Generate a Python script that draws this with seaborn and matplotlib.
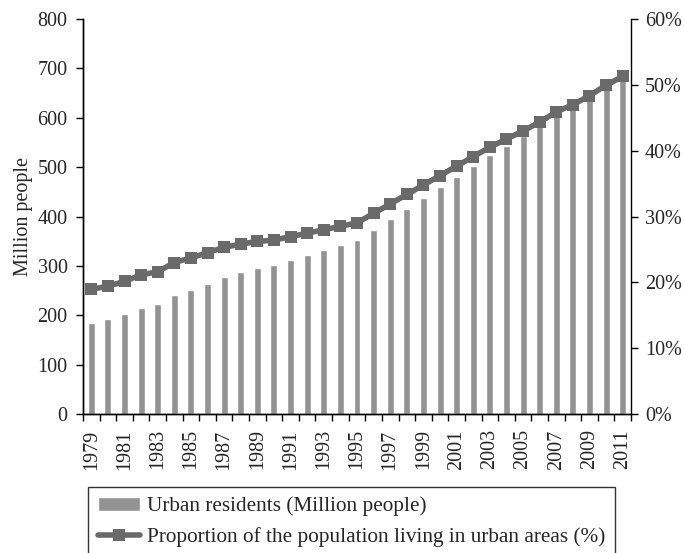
import numpy as np
import pandas as pd
import matplotlib
matplotlib.use("Agg")
import matplotlib.pyplot as plt
import seaborn as sns
from matplotlib.ticker import FuncFormatter, FixedLocator

years = list(range(1979, 2012))
urban_residents = [184.95, 191.40, 201.71, 214.80, 222.74, 240.17, 250.94, 263.66,
                   276.74, 286.61, 295.40, 301.95, 312.03, 321.75, 331.73, 341.69,
                   351.74, 373.04, 394.49, 416.08, 437.48, 459.06, 480.64, 502.12,
                   523.76, 542.83, 562.12, 582.88, 606.33, 624.03, 645.12, 669.78,
                   690.79]
urban_share = [18.96, 19.39, 20.16, 21.13, 21.62, 23.01, 23.71, 24.52, 25.32,
               25.81, 26.21, 26.41, 26.94, 27.46, 27.99, 28.51, 29.04, 30.48,
               31.91, 33.35, 34.78, 36.22, 37.66, 39.09, 40.53, 41.76, 42.99,
               44.34, 45.89, 46.99, 48.34, 49.95, 51.27]

df = pd.DataFrame({"year": [str(y) for y in years],
                   "residents": urban_residents,
                   "share": urban_share})
df["pos"] = np.arange(len(df))

sns.set_style("ticks")
plt.rcParams["font.family"] = ["Liberation Serif", "DejaVu Serif"]
plt.rcParams["font.size"] = 14.5

fig = plt.figure(figsize=(6.84, 5.53), dpi=100)
ax = fig.add_axes([83 / 684, 139 / 553, 548 / 684, 395 / 553])

sns.barplot(data=df, x="year", y="residents", color="#939393", saturation=1,
            width=0.42, ax=ax, label="Urban residents (Million people)")
ax.set_xlim(-0.5, len(df) - 0.5)
ax.set_ylim(0, 800)
ax.set_yticks(range(0, 801, 100))
ax.set_ylabel("Million people", fontsize=14.5)
ax.yaxis.set_label_coords(-0.091, 0.5)
ax.set_xlabel("")

# labels every other year, ticks between bars
ax.set_xticks(df["pos"][::2])
ax.set_xticklabels(df["year"][::2], rotation=90)
ax.tick_params(axis="x", which="major", length=0, pad=11)
ax.xaxis.set_minor_locator(FixedLocator(np.arange(-0.5, len(df), 1.0)))
ax.tick_params(axis="x", which="minor", length=5, width=1, color="black")
ax.tick_params(axis="y", length=5, width=1, color="black", pad=6)

ax2 = ax.twinx()
sns.lineplot(data=df, x="pos", y="share", color="#6a6a6a", linewidth=4,
             marker="s", markersize=8, markeredgewidth=0, ax=ax2,
             label="Proportion of the population living in urban areas (%)")
ax2.set_ylim(0, 60)
ax2.set_yticks(range(0, 61, 10))
ax2.yaxis.set_major_formatter(FuncFormatter(lambda v, p: f"{int(v)}%"))
ax2.set_ylabel("")
ax2.tick_params(axis="y", length=5, width=1, color="black", pad=5)
ax2.set_xlim(-0.5, len(df) - 0.5)

for a in (ax, ax2):
    a.spines["top"].set_visible(False)
    for s in ("left", "right", "bottom"):
        a.spines[s].set_color("black")
        a.spines[s].set_linewidth(1)
ax.spines["right"].set_visible(False)

h1, l1 = ax.get_legend_handles_labels()
h2, l2 = ax2.get_legend_handles_labels()
if ax.get_legend():
    ax.get_legend().remove()
if ax2.get_legend():
    ax2.get_legend().remove()
leg = fig.legend(h1 + h2, l1 + l2, loc="upper left",
                 bbox_to_anchor=(88 / 684, 1 - 487 / 553), borderaxespad=0,
                 fontsize=15.3, frameon=True, fancybox=False, edgecolor="black",
                 handlelength=2.0, handletextpad=0.33, borderpad=0.45,
                 labelspacing=0.5)
leg.get_frame().set_linewidth(1)

fig.savefig("out.png", dpi=100)
